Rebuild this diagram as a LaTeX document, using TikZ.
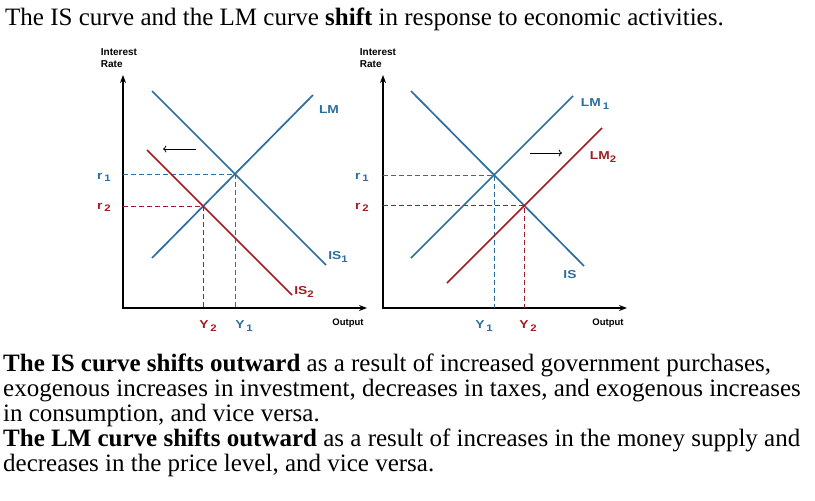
\documentclass[tikz,border=0pt]{standalone}
\usepackage{fontspec}
\setmainfont{Liberation Serif}
\newfontfamily\graphfont{Liberation Sans}
\newfontfamily\curvefont[FakeStretch=1.2]{Liberation Sans}
\usetikzlibrary{arrows.meta}
\definecolor{isblue}{RGB}{44,110,160}
\definecolor{isred}{RGB}{160,30,35}
\newcommand{\lowsub}[1]{\raisebox{-0.35ex}{\fontsize{9.5}{10}\selectfont #1}}

\begin{document}
\begin{tikzpicture}[x=1pt,y=-1pt,
    axis/.style={line width=1.6pt,{Stealth[length=8pt,width=6pt]}-{Stealth[length=8pt,width=6pt]}},
    blueline/.style={isblue,line width=1.7pt},
    redline/.style={isred,line width=1.7pt},
    bluedash/.style={isblue,line width=0.8pt,dash pattern=on 5pt off 3pt},
    reddash/.style={isred,line width=0.8pt,dash pattern=on 5pt off 3pt},
    lbl/.style={font=\curvefont\bfseries\fontsize{11.5}{12}\selectfont,inner sep=0pt},
    axlbl/.style={font=\graphfont\bfseries\fontsize{10}{11.5}\selectfont,inner sep=0pt,align=left},
    outlbl/.style={font=\graphfont\bfseries\fontsize{9.5}{10}\selectfont,inner sep=0pt},
    txt/.style={anchor=base west,inner sep=0pt,font=\fontsize{25}{25}\selectfont}]
    \useasboundingbox (0,0) rectangle (815,501);

    \node[txt] (title) at (5,25)
        {The IS curve and the LM curve \textbf{shift} in response to economic activities.};

    % left graph: IS shifts
    \coordinate (ytopA) at (123,75);
    \coordinate (oA) at (123,308);
    \coordinate (xendA) at (367,308);
    \draw[axis] (ytopA) -- (oA) -- (xendA);
    \node[axlbl] (rateA) at (119,58) {Interest\\Rate};
    \node[outlbl] (outA) at (348,323) {Output};

    \coordinate (lmA1) at (152,258);
    \coordinate (lmA2) at (313,95);
    \coordinate (isA1) at (152,91);
    \coordinate (isA2) at (326,265);
    \coordinate (isB1) at (147,150);
    \coordinate (isB2) at (292,295);
    \coordinate (eA) at (intersection of lmA1--lmA2 and isA1--isA2);
    \coordinate (eB) at (intersection of lmA1--lmA2 and isB1--isB2);

    \draw[bluedash] (oA |- eA) -- (eA) -- (eA |- oA);
    \draw[reddash] (oA |- eB) -- (eB) -- (eB |- oA);
    \draw[blueline] (lmA1) -- (lmA2);
    \draw[blueline] (isA1) -- (isA2);
    \draw[redline] (isB1) -- (isB2);

    \node[lbl,isblue] (lmA) at (329,110) {LM};
    \node[lbl,isblue] (isAl) at (338,257) {IS\lowsub{1}};
    \node[lbl,isred] (isBl) at (304,292) {IS\lowsub{2}};
    \node[lbl,isblue] (rA1) at (104,177) {r\,\lowsub{1}};
    \node[lbl,isred] (rA2) at (104,207) {r\,\lowsub{2}};
    \node[lbl,isred] (yA2) at (208,326) {Y\,\lowsub{2}};
    \node[lbl,isblue] (yA1) at (244,326) {Y\,\lowsub{1}};

    \coordinate (shiftA1) at (196,149);
    \coordinate (shiftA2) at (163,149);
    \draw[->,line width=0.8pt] (shiftA1) -- (shiftA2);

    % right graph: LM shifts
    \coordinate (ytopB) at (383,75);
    \coordinate (oB) at (383,308);
    \coordinate (xendB) at (627,308);
    \draw[axis] (ytopB) -- (oB) -- (xendB);
    \node[axlbl] (rateB) at (378,58) {Interest\\Rate};
    \node[outlbl] (outB) at (608,323) {Output};

    \coordinate (isC1) at (411,91);
    \coordinate (isC2) at (584,266);
    \coordinate (lmC1) at (411,258);
    \coordinate (lmC2) at (573,96);
    \coordinate (lmD1) at (447,283);
    \coordinate (lmD2) at (602,128);
    \coordinate (eC) at (intersection of isC1--isC2 and lmC1--lmC2);
    \coordinate (eD) at (intersection of isC1--isC2 and lmD1--lmD2);

    \draw[bluedash] (oB |- eC) -- (eC) -- (eC |- oB);
    \draw[reddash] (oB |- eD) -- (eD) -- (eD |- oB);
    \draw[blueline] (isC1) -- (isC2);
    \draw[blueline] (lmC1) -- (lmC2);
    \draw[redline] (lmD1) -- (lmD2);

    \node[lbl,isblue] (lmCl) at (595,104) {LM\,\lowsub{1}};
    \node[lbl,isred] (lmDl) at (603,157) {LM\lowsub{2}};
    \node[lbl,isblue] (isCl) at (570,275) {IS};
    \node[lbl,isblue] (rB1) at (362,177) {r\,\lowsub{1}};
    \node[lbl,isred] (rB2) at (362,207) {r\,\lowsub{2}};
    \node[lbl,isblue] (yB1) at (484,326) {Y\,\lowsub{1}};
    \node[lbl,isred] (yB2) at (528,326) {Y\,\lowsub{2}};

    \coordinate (shiftB1) at (530,153);
    \coordinate (shiftB2) at (562,153);
    \draw[->,line width=0.8pt] (shiftB1) -- (shiftB2);

    % text below
    \node[txt] (para1) at (3,371) {\textbf{The IS curve shifts outward} as a result of increased government purchases,};
    \node[txt] (para2) at (3,396) {exogenous increases in investment, decreases in taxes, and exogenous increases};
    \node[txt] (para3) at (3,421) {in consumption, and vice versa.};
    \node[txt] (para4) at (3,446) {\textbf{The LM curve shifts outward} as a result of increases in the money supply and};
    \node[txt] (para5) at (3,471) {decreases in the price level, and vice versa.};
\end{tikzpicture}
\end{document}
